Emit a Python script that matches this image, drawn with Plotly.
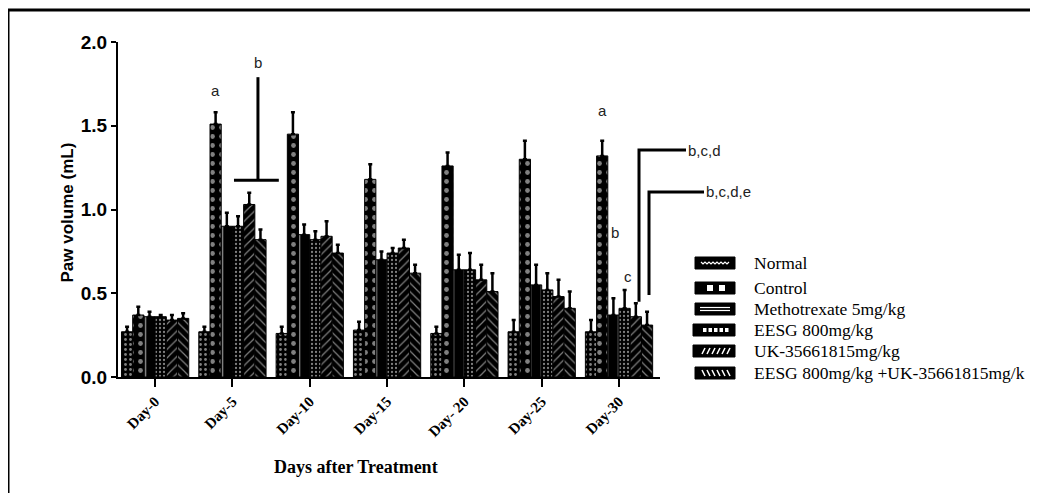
import plotly.graph_objects as go

days = ["Day-0", "Day-5", "Day-10", "Day-15", "Day- 20", "Day-25", "Day-30"]
groups = ["Normal", "Control", "Methotrexate 5mg/kg", "EESG 800mg/kg",
          "UK-35661815mg/kg", "EESG 800mg/kg +UK-35661815mg/k"]

normal = [0.27, 0.27, 0.26, 0.28, 0.26, 0.27, 0.27]
control = [0.37, 1.51, 1.45, 1.18, 1.26, 1.30, 1.32]
methotrexate = [0.36, 0.90, 0.85, 0.70, 0.64, 0.55, 0.37]
eesg = [0.36, 0.90, 0.82, 0.74, 0.64, 0.52, 0.41]
uk = [0.34, 1.03, 0.84, 0.77, 0.58, 0.48, 0.36]
combo = [0.35, 0.82, 0.74, 0.62, 0.51, 0.41, 0.31]

normal_err = [0.03, 0.03, 0.04, 0.05, 0.04, 0.07, 0.07]
control_err = [0.05, 0.07, 0.13, 0.09, 0.08, 0.11, 0.09]
methotrexate_err = [0.03, 0.08, 0.06, 0.05, 0.09, 0.12, 0.10]
eesg_err = [0.01, 0.06, 0.05, 0.03, 0.10, 0.10, 0.11]
uk_err = [0.03, 0.07, 0.09, 0.05, 0.09, 0.10, 0.08]
combo_err = [0.03, 0.06, 0.05, 0.05, 0.11, 0.10, 0.08]

values = [normal, control, methotrexate, eesg, uk, combo]
errors = [normal_err, control_err, methotrexate_err, eesg_err, uk_err, combo_err]
patterns = [
    dict(shape=".", size=5, solidity=0.25),
    dict(shape=".", size=9, solidity=0.22),
    dict(shape="|", size=11, solidity=0.15),
    dict(shape=".", size=4, solidity=0.25),
    dict(shape="/", size=6, solidity=0.2),
    dict(shape="\\", size=6, solidity=0.2),
]

# page offset (browser body margin) and plot-area geometry in reference pixels
OFF = 8
W, H = 1038 - OFF, 493 - OFF
L, R, T, B = 118, 660, 42, 377
def px(x):
    return (x - L) / (R - L)
def py(y):
    return (B - y) / (B - T)

fig = go.Figure()
for name, v, e, p in zip(groups, values, errors, patterns):
    fig.add_trace(go.Bar(
        x=days, y=v, name=name, showlegend=False,
        marker=dict(color="black", line=dict(color="black", width=1),
                    pattern=dict(fgcolor="white", bgcolor="black", **p)),
        error_y=dict(type="data", array=e, arrayminus=[0]*len(e), symmetric=False,
                     color="black", thickness=2.5, width=2),
    ))

shapes = []
annotations = []

# frame (left and top lines)
shapes.append(dict(type="line", xref="paper", yref="paper", x0=px(8), x1=px(8),
                   y0=py(10), y1=py(H + OFF + 5), line=dict(color="black", width=3)))
shapes.append(dict(type="line", xref="paper", yref="paper", x0=px(8), x1=px(W + OFF + 5),
                   y0=py(10), y1=py(10), line=dict(color="black", width=3)))

# significance markers (y in data units, converted to paper: range 0..2)
def yd(v):
    return v / 2.0
lw = dict(color="black", width=3)
# Day-5 bracket "b"
shapes.append(dict(type="line", xref="x", yref="paper", x0=1.33, x1=1.33,
                   y0=yd(1.18), y1=yd(1.79), line=lw))
shapes.append(dict(type="line", xref="x", yref="paper", x0=1.02, x1=1.60,
                   y0=yd(1.175), y1=yd(1.175), line=lw))
# Day-30 brackets
shapes.append(dict(type="path", xref="paper", yref="paper",
                   path=f"M{px(639)},{yd(0.45)} L{px(639)},{yd(1.355)} L{px(686)},{yd(1.355)}",
                   line=lw))
shapes.append(dict(type="path", xref="paper", yref="paper",
                   path=f"M{px(649)},{yd(0.49)} L{px(649)},{yd(1.105)} L{px(704)},{yd(1.105)}",
                   line=lw))

af = dict(family="Liberation Sans, Arial", size=15, color="#222")
annotations += [
    dict(x=0.78, y=1.71, xref="x", yref="y", text="a", showarrow=False, font=af),
    dict(x=1.33, y=1.88, xref="x", yref="y", text="b", showarrow=False, font=af),
    dict(x=5.78, y=1.59, xref="x", yref="y", text="a", showarrow=False, font=af),
    dict(x=5.95, y=0.86, xref="x", yref="y", text="b", showarrow=False, font=af),
    dict(x=6.11, y=0.60, xref="x", yref="y", text="c", showarrow=False, font=af),
    dict(x=px(686), y=yd(1.355), xref="paper", yref="paper", text="b,c,d",
         showarrow=False, xanchor="left", yanchor="middle", font=af),
    dict(x=px(704), y=yd(1.105), xref="paper", yref="paper", text="b,c,d,e",
         showarrow=False, xanchor="left", yanchor="middle", font=af),
]

# custom legend
rows = [263, 288, 309, 330, 351, 373]
for i, (name, yy) in enumerate(zip(groups, rows)):
    x0, x1 = 695, 735
    if i == 3 or i == 4:
        x0 = 693
    shapes.append(dict(type="rect", xref="paper", yref="paper",
                       x0=px(x0), x1=px(x1), y0=py(yy + 6), y1=py(yy - 6),
                       fillcolor="black", line=dict(color="black", width=1)))
    if i == 0:
        pts = " ".join(f"L{px(701 + k*2)},{py(yy + (1 if k % 2 else -1))}" for k in range(15))
        shapes.append(dict(type="path", xref="paper", yref="paper",
                           path="M" + pts[1:], line=dict(color="white", width=1.2)))
    elif i == 1:
        for cx in (707, 719):
            shapes.append(dict(type="rect", xref="paper", yref="paper",
                               x0=px(cx), x1=px(cx + 6), y0=py(yy + 3), y1=py(yy - 3),
                               fillcolor="white", line=dict(width=0)))
    elif i == 2:
        for dy in (-1.5, 1.5):
            shapes.append(dict(type="line", xref="paper", yref="paper",
                               x0=px(700), x1=px(730), y0=py(yy + dy), y1=py(yy + dy),
                               line=dict(color="white", width=1.2)))
    elif i == 3:
        for k in range(5):
            cx = 703 + k * 5.5
            shapes.append(dict(type="rect", xref="paper", yref="paper",
                               x0=px(cx), x1=px(cx + 3.5), y0=py(yy + 2), y1=py(yy - 2),
                               fillcolor="white", line=dict(width=0)))
    elif i in (4, 5):
        for k in range(6):
            cx = 702 + k * 5
            if i == 4:
                p = f"M{px(cx)},{py(yy + 3)} L{px(cx + 3)},{py(yy - 3)}"
            else:
                p = f"M{px(cx)},{py(yy - 3)} L{px(cx + 3)},{py(yy + 3)}"
            shapes.append(dict(type="path", xref="paper", yref="paper", path=p,
                               line=dict(color="white", width=1.5)))
    annotations.append(dict(x=px(752), y=py(yy), xref="paper", yref="paper",
                            text=name, showarrow=False, xanchor="left", yanchor="middle",
                            font=dict(family="Liberation Serif, Times New Roman", size=17.5,
                                      color="black")))

# axis titles
annotations.append(dict(x=px(55), y=py(213), xref="paper", yref="paper",
                        text="<b>Paw volume (mL)</b>", textangle=-90, showarrow=False,
                        font=dict(family="Liberation Sans, Arial", size=17, color="black")))
annotations.append(dict(x=px(356), y=py(467), xref="paper", yref="paper",
                        text="<b>Days after Treatment</b>", showarrow=False,
                        yanchor="middle",
                        font=dict(family="Liberation Serif, Times New Roman", size=18,
                                  color="black")))

fig.update_layout(
    width=W, height=H,
    margin=dict(l=L - OFF, r=W + OFF - R, t=T - OFF, b=H + OFF - B, pad=0),
    paper_bgcolor="white", plot_bgcolor="white",
    barmode="group", bargap=0.13, bargroupgap=0,
    shapes=shapes, annotations=annotations, showlegend=False,
    xaxis=dict(range=[-0.48, 6.53], showline=True, linecolor="black", linewidth=2,
               ticks="outside", ticklen=8, tickwidth=2, tickcolor="black",
               tickangle=-45, showgrid=False, zeroline=False,
               tickfont=dict(family="Liberation Serif, Times New Roman", size=15,
                             color="black", weight="bold")),
    yaxis=dict(range=[0, 2.0], tickvals=[0, 0.5, 1.0, 1.5, 2.0], tickformat=".1f",
               showline=True, linecolor="black", linewidth=2,
               ticks="outside", ticklen=5, tickwidth=2, tickcolor="black",
               showgrid=False, zeroline=False,
               tickfont=dict(family="Liberation Sans, Arial", size=19, color="black",
                             weight="bold")),
)

fig.write_html("out.html")
